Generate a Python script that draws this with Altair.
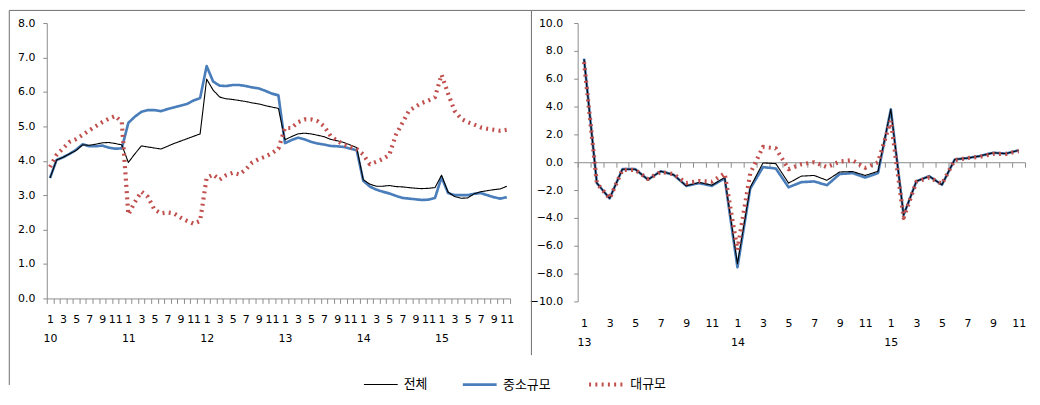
import json
import altair as alt
import pandas as pd

# ---------------- data ----------------
SERIES = ["전체", "중소규모", "대규모"]
MONTH_LABELS = ["1", "2", "3", "4", "5", "6", "7", "8", "9", "10", "11", "12"]
LEFT_YEARS = ["10", "11", "12", "13", "14", "15"]
RIGHT_YEARS = ["13", "14", "15"]

# left panel (2010.1 - 2015.11)
left_total = (
    [3.50, 4.02, 4.10, 4.20, 4.30, 4.46, 4.45, 4.48, 4.52, 4.53, 4.50, 4.46]
    + [3.95, 4.20, 4.43, 4.40, 4.37, 4.34, 4.42, 4.50, 4.57, 4.64, 4.71, 4.78]
    + [6.37, 6.05, 5.85, 5.80, 5.78, 5.75, 5.72, 5.68, 5.65, 5.60, 5.56, 5.52]
    + [4.61, 4.70, 4.78, 4.80, 4.78, 4.74, 4.70, 4.62, 4.58, 4.53, 4.46, 4.38]
    + [3.45, 3.32, 3.26, 3.26, 3.28, 3.25, 3.24, 3.22, 3.20, 3.19, 3.20, 3.22]
    + [3.58, 3.09, 2.96, 2.91, 2.92, 3.04, 3.10, 3.13, 3.16, 3.18, 3.26]
)
left_sme = (
    [3.50, 4.02, 4.10, 4.20, 4.32, 4.48, 4.42, 4.42, 4.44, 4.38, 4.35, 4.36]
    + [5.10, 5.28, 5.42, 5.47, 5.47, 5.44, 5.50, 5.55, 5.60, 5.65, 5.75, 5.82]
    + [6.75, 6.30, 6.18, 6.17, 6.20, 6.20, 6.17, 6.13, 6.10, 6.03, 5.95, 5.90]
    + [4.51, 4.60, 4.67, 4.62, 4.55, 4.50, 4.47, 4.43, 4.42, 4.40, 4.35, 4.30]
    + [3.42, 3.25, 3.16, 3.10, 3.05, 2.98, 2.92, 2.90, 2.88, 2.86, 2.87, 2.92]
    + [3.52, 3.06, 3.00, 3.00, 3.00, 3.04, 3.06, 3.00, 2.94, 2.90, 2.94]
)
left_large = (
    [3.82, 4.17, 4.36, 4.55, 4.63, 4.75, 4.88, 5.00, 5.12, 5.22, 5.30, 5.12]
    + [2.44, 2.80, 3.10, 2.95, 2.58, 2.47, 2.50, 2.47, 2.35, 2.25, 2.17, 2.25]
    + [3.50, 3.60, 3.45, 3.58, 3.65, 3.60, 3.75, 3.95, 4.05, 4.12, 4.22, 4.35]
    + [4.95, 4.95, 5.12, 5.20, 5.20, 5.15, 5.00, 4.72, 4.58, 4.47, 4.40, 4.34]
    + [4.18, 3.90, 3.97, 4.05, 4.17, 4.75, 5.10, 5.45, 5.57, 5.68, 5.75, 5.85]
    + [6.50, 5.95, 5.45, 5.22, 5.12, 5.05, 4.97, 4.93, 4.90, 4.87, 4.90]
)

# right panel (2013.1 - 2015.11)
right_total = (
    [7.40, -1.50, -2.60, -0.50, -0.50, -1.25, -0.65, -0.90, -1.70, -1.45, -1.65, -1.10]
    + [-7.30, -1.80, -0.05, -0.10, -1.50, -1.00, -0.95, -1.30, -0.70, -0.67, -0.95, -0.65]
    + [3.80, -3.80, -1.37, -1.00, -1.62, 0.20, 0.30, 0.45, 0.68, 0.62, 0.85]
)
right_sme = (
    [7.45, -1.50, -2.60, -0.50, -0.50, -1.25, -0.65, -0.90, -1.70, -1.50, -1.70, -1.15]
    + [-7.55, -1.90, -0.35, -0.45, -1.80, -1.43, -1.38, -1.65, -0.85, -0.78, -1.10, -0.78]
    + [3.80, -3.80, -1.37, -1.00, -1.62, 0.20, 0.30, 0.45, 0.68, 0.62, 0.85]
)
right_large = (
    [7.20, -1.50, -2.60, -0.55, -0.55, -1.20, -0.70, -0.85, -1.50, -1.35, -1.40, -0.80]
    + [-6.30, -0.80, 1.10, 1.00, -0.50, -0.15, 0.00, -0.35, 0.05, 0.15, -0.40, 0.00]
    + [3.00, -4.00, -1.40, -1.10, -1.55, 0.15, 0.30, 0.40, 0.60, 0.60, 0.80]
)

LEFT_Y_TICKS = [0, 1, 2, 3, 4, 5, 6, 7, 8]
RIGHT_Y_TICKS = [-10, -8, -6, -4, -2, 0, 2, 4, 6, 8, 10]

# ---------------- style ----------------
COLORS = ["#000000", "#4A7EBB", "#C0504D"]
WIDTHS = [1.1, 4.2, 2.6]
DASHES = [[1, 0], [1, 0], [2, 4.3]]
GRAY = "#8c8c8c"
FRAME = "#6e6e6e"
FONT = "DejaVu Sans"
KFONT = "Noto Sans CJK KR"

WL, HL = 466, 277
WR, HR = 450, 280
SPACING = 68


def long_df(total, sme, large):
    rows = []
    for name, vals in zip(SERIES, [total, sme, large]):
        for i, v in enumerate(vals):
            rows.append({"i": i, "series": name, "value": v})
    return pd.DataFrame(rows)


def label_expr(n, years):
    lab = []
    for k in range(n + 1):
        if k < n and k % 2 == 0:
            m = MONTH_LABELS[k % 12]
            lab.append([m, years[k // 12]] if k % 12 == 0 else [m])
        else:
            lab.append("")
    return json.dumps(lab, ensure_ascii=False) + "[round(datum.value + 0.5)]"


legend = alt.Legend(
    orient="none", legendX=318, legendY=344, direction="horizontal",
    symbolType="stroke", symbolSize=1156, labelFont=KFONT, labelFontSize=13,
    labelColor="#000000", columnPadding=30, labelOffset=5, title=None,
)
color = alt.Color("series:N", scale=alt.Scale(domain=SERIES, range=COLORS), legend=legend)
dash = alt.StrokeDash("series:N", scale=alt.Scale(domain=SERIES, range=DASHES), legend=legend)
swidth = alt.StrokeWidth("series:N", scale=alt.Scale(domain=SERIES, range=WIDTHS), legend=legend)


def panel(df, n, years, width, height, ydomain, yticks, xoffset, xlabelpad, ypad, frames):
    step = width / n
    xaxis_kw = dict(
        values=[k - 0.5 for k in range(n + 1)], labelExpr=label_expr(n, years),
        labelOffset=step / 2, tickSize=5, labelPadding=xlabelpad,
        domainColor=GRAY, tickColor=GRAY, labelFont=FONT, labelFontSize=11,
        labelColor="#000000", labelAngle=0, labelOverlap=False, labelBound=False,
        labelFlush=False, grid=False, title=None, labelLineHeight=19,
        labelBaseline="top",
    )
    if xoffset:
        xaxis_kw["offset"] = xoffset
    base = alt.Chart(df).encode(
        x=alt.X("i:Q", scale=alt.Scale(domain=[-0.5, n - 0.5], nice=False, zero=False),
                axis=alt.Axis(**xaxis_kw)),
        y=alt.Y("value:Q", scale=alt.Scale(domain=ydomain, nice=False, zero=False),
                axis=alt.Axis(values=yticks, format=".1f", tickSize=4, labelPadding=ypad,
                              domainColor=GRAY, tickColor=GRAY, labelFont=FONT,
                              labelFontSize=11, labelColor="#000000", grid=False,
                              title=None)),
        color=color, strokeDash=dash, strokeWidth=swidth,
    )
    layers = []
    for s in ["중소규모", "전체", "대규모"]:
        layers.append(
            base.transform_filter(alt.datum.series == s).mark_line(strokeJoin="round")
        )
    for f in frames:
        layers.append(
            alt.Chart(alt.Data(values=[{"a": 1}])).mark_rule(color=FRAME, strokeWidth=1).encode(**f)
        )
    return alt.layer(*layers).properties(width=width, height=height)


left_frames = [
    dict(x=alt.value(-37.7), y=alt.value(-12.7), y2=alt.value(364)),
    dict(x=alt.value(-37.7), x2=alt.value(WL + SPACING - 46.5), y=alt.value(-12.7)),
]
right_frames = [
    dict(x=alt.value(-46.5), y=alt.value(-12.7), y2=alt.value(334)),
    dict(x=alt.value(-46.5), x2=alt.value(WR), y=alt.value(-12.7)),
]

left = panel(long_df(left_total, left_sme, left_large), 71, LEFT_YEARS, WL, HL,
             [0, 8], LEFT_Y_TICKS, 0, 10, 8, left_frames)
right = panel(long_df(right_total, right_sme, right_large), 35, RIGHT_YEARS, WR, HR,
              [-10, 10], RIGHT_Y_TICKS, -HR / 2, HR / 2 + 11, 11, right_frames)

chart = (
    alt.hconcat(left, right, spacing=SPACING, bounds="flush")
    .properties(padding=0, background="white")
    .configure_view(stroke=None)
)

chart.save("out.html", embed_options={"renderer": "svg", "actions": False})
